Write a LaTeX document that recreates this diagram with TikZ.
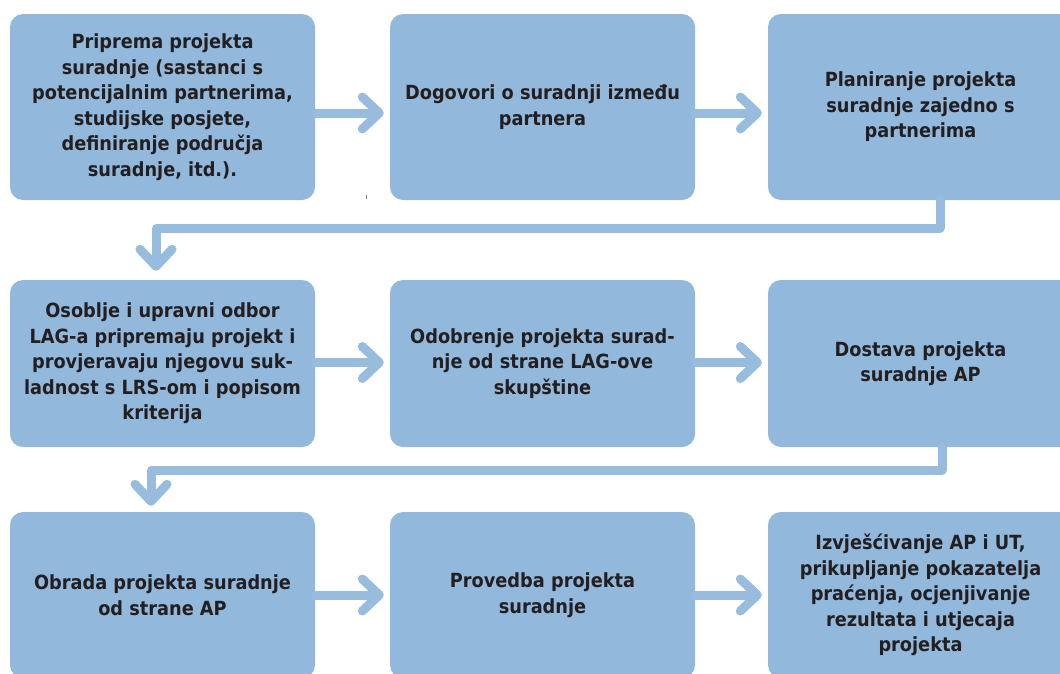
\documentclass[tikz,border=0pt]{standalone}
\usepackage{fontspec}
\newfontfamily\boxfont[FakeStretch=0.91]{DejaVu Sans}
\usetikzlibrary{arrows.meta}
\definecolor{boxblue}{RGB}{146,184,220}
\definecolor{linkblue}{RGB}{152,188,222}
\definecolor{textdark}{RGB}{35,31,32}
\tikzset{
  stepbox/.style={fill=boxblue, draw=none, rounded corners=13pt, inner sep=0pt,
    minimum width=305pt, align=center, text=textdark,
    font=\boxfont\bfseries\fontsize{19.5}{25.5}\selectfont},
  row1/.style={minimum height=186pt},
  row2/.style={minimum height=167pt},
  row3/.style={minimum height=166pt},
  conn/.style={draw=linkblue, line width=9pt, line join=round, line cap=round,
    -{Straight Barb[length=17pt, width=32pt, line cap=round, line join=round]}},
}
\begin{document}
\begin{tikzpicture}[x=1pt,y=-1pt]
\useasboundingbox (0,0) rectangle (1060,673);
\clip (0,0) rectangle (1060,673);
% row 1
\node[stepbox,row1] (b1) at (162.5,107) {Priprema projekta\\suradnje (sastanci s\\potencijalnim partnerima,\\studijske posjete,\\definiranje područja\\suradnje, itd.).};
\node[stepbox,row1] (b2) at (542.5,107) {Dogovori o suradnji između\\partnera};
\node[stepbox,row1] (b3) at (920.5,107) {Planiranje projekta\\suradnje zajedno s\\partnerima};
% row 2
\node[stepbox,row2] (b4) at (162.5,363.5) {Osoblje i upravni odbor\\LAG-a pripremaju projekt i\\provjeravaju njegovu suk-\\ladnost s LRS-om i popisom\\kriterija};
\node[stepbox,row2] (b5) at (542.5,363.5) {Odobrenje projekta surad-\\nje od strane LAG-ove\\skupštine};
\node[stepbox,row2] (b6) at (920.5,363.5) {Dostava projekta\\suradnje AP};
% row 3
\node[stepbox,row3] (b7) at (162.5,595) {Obrada projekta suradnje\\od strane AP};
\node[stepbox,row3] (b8) at (542.5,595) {Provedba projekta\\suradnje};
\node[stepbox,row3] (b9) at (920.5,595) {Izvješćivanje AP i UT,\\prikupljanje pokazatelja\\praćenja, ocjenjivanje\\rezultata i utjecaja\\projekta};
% horizontal arrows
\draw[conn] ([yshift=-6pt]b1.east) -- ([yshift=-6pt,xshift=-6pt]b2.west);
\draw[conn] ([yshift=-6pt]b2.east) -- ([yshift=-6pt,xshift=-6pt]b3.west);
\draw[conn] ([yshift=1pt]b4.east) -- ([yshift=1pt,xshift=-6pt]b5.west);
\draw[conn] ([yshift=1pt]b5.east) -- ([yshift=1pt,xshift=-6pt]b6.west);
\draw[conn] (b7.east) -- ([xshift=-6pt]b8.west);
\draw[conn] (b8.east) -- ([xshift=-6pt]b9.west);
% row change connectors
\coordinate (c1a) at (940,228);
\coordinate (c1b) at (156,228);
\draw[conn] ([xshift=19.5pt]b3.south) -- (c1a) -- (c1b) -- ([yshift=9pt]b4.north -| c1b);
\coordinate (c2a) at (942,470);
\coordinate (c2b) at (151,470);
\draw[conn] ([xshift=21.5pt]b6.south) -- (c2a) -- (c2b) -- ([yshift=6pt]b7.north -| c2b);
% small mark
\fill[gray] (365.5,195) rectangle (367,199);
\end{tikzpicture}
\end{document}
